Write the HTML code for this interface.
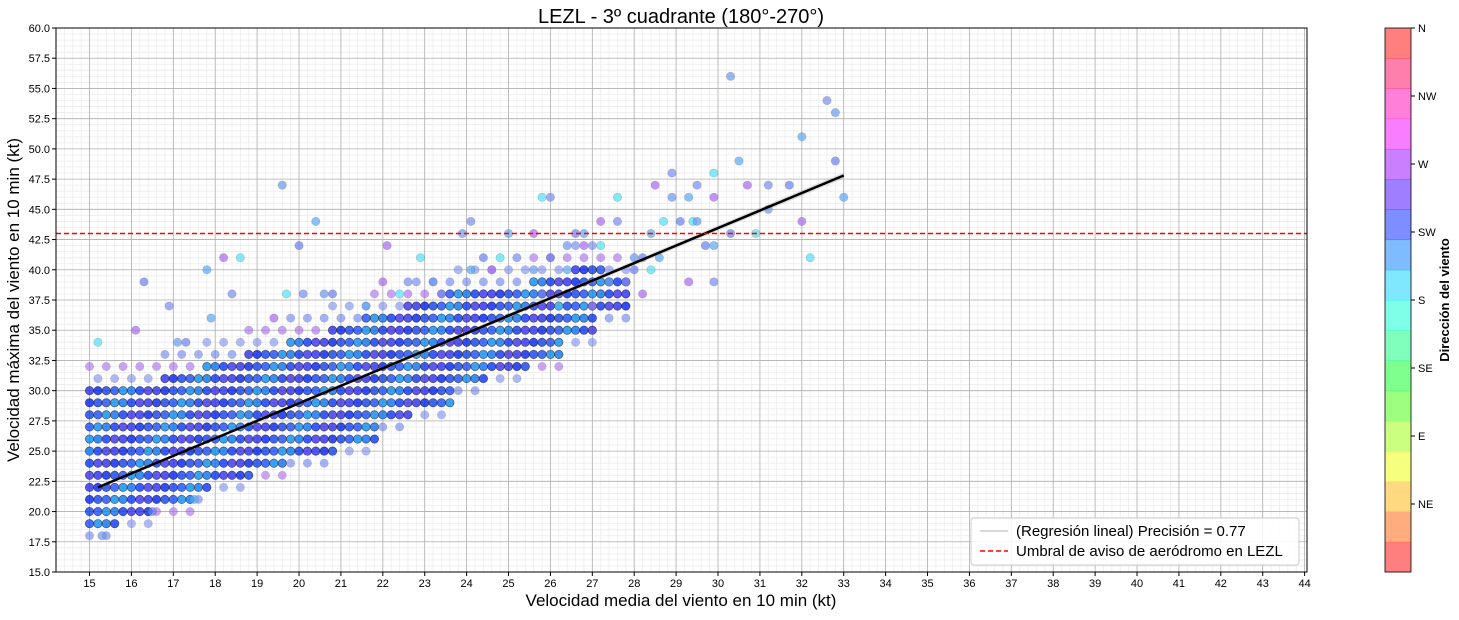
<!DOCTYPE html>
<html><head><meta charset="utf-8"><style>
body{margin:0;background:#fff;font-family:"Liberation Sans",sans-serif}
svg text{font-family:"Liberation Sans",sans-serif}
</style></head><body>
<svg id="chart" width="1459" height="615" xmlns="http://www.w3.org/2000/svg">
<g id="grid"></g>
<g id="marks"></g>
<g id="axes"></g>
<text x="681" y="23" font-size="20" text-anchor="middle">LEZL - 3º cuadrante (180°-270°)</text>
<text x="681" y="606" font-size="17" text-anchor="middle">Velocidad media del viento en 10 min (kt)</text>
<text transform="translate(19,300) rotate(-90)" font-size="17" text-anchor="middle">Velocidad máxima del viento en 10 min (kt)</text>
<g>
<rect x="971" y="518" width="328" height="47" rx="3" fill="#fff" fill-opacity="0.85" stroke="#ccc"/>
<line x1="980" y1="531" x2="1008" y2="531" stroke="#ccc" stroke-width="1.5"/>
<text x="1016" y="536" font-size="15">(Regresión lineal) Precisión = 0.77</text>
<line x1="980" y1="551" x2="1008" y2="551" stroke="red" stroke-width="1.5" stroke-dasharray="5,3"/>
<text x="1016" y="556" font-size="15">Umbral de aviso de aeródromo en LEZL</text>
</g>
<g id="cbar"></g>
<text transform="translate(1449,300) rotate(-90)" font-size="13" font-weight="bold" text-anchor="middle">Dirección del viento</text>
</svg>
<script>
const colX=[15.0,15.2,15.4,15.6,15.8,16.0,16.2,16.4,16.6,16.8,17.0,17.2,17.4,17.6,17.8,18.0,18.2,18.4,18.6,18.8,19.0,19.2,19.4,19.6,19.8,20.0,20.2,20.4,20.6,20.8,21.0,21.2,21.4,21.6,21.8,22.0,22.2,22.4,22.6,22.8,23.0,23.2,23.4,23.6,23.8,24.0,24.2,24.4,24.6,24.8,25.0,25.2,25.4,25.6,25.8,26.0,26.2,26.4,26.6,26.8,27.0,27.2,27.4,27.6,27.8];
const coreLo=[19,19,19,19,20,20,20,20,21,21,21,21,21,22,22,23,23,23,23,23,24,24,24,24,25,25,25,25,25,25,26,26,26,26,26,28,28,28,28,29,29,29,29,29,31,31,31,31,32,32,32,32,32,33,33,33,33,35,35,35,35,37,37,37,37];
const coreHi=[30,30,30,30,30,30,30,30,30,31,31,31,31,31,32,32,32,32,32,33,33,33,33,33,34,34,34,34,34,35,35,35,35,36,36,36,36,36,37,37,37,37,37,38,38,38,38,38,38,38,38,38,38,39,39,39,39,39,40,40,40,40,39,39,39];
const outX=[16.3,17.8,18.2,18.6,18.4,19.6,20.0,20.4,22.1,22.9,24.1,23.9,24.4,25.0,25.6,25.8,26.0,26.4,26.6,26.8,27.2,27.6,27.6,28.0,28.2,28.4,28.5,28.7,28.9,28.9,29.1,29.3,29.3,29.4,29.5,29.5,29.7,29.9,29.9,29.9,29.9,30.3,30.3,30.5,30.7,30.9,31.2,31.2,31.7,32.0,32.0,32.2,32.6,32.8,32.8,33.0,28.2,28.4,27.8,27.4,28.0,28.6,27.0,26.2,25.8,15.3,16.5,17.5,16.1,15.2,16.9,17.1,17.3,17.9,19.4,19.7,20.1,20.6,20.8,21.6,22.0,22.4,22.6,23.2,23.4,24.1,24.6,24.8,25.2,25.6,26.0,26.4,26.8,27.2];
const outY=[39,40,41,41,38,47,42,44,42,41,44,43,41,43,43,46,46,42,43,43,44,46,44,41,41,43,47,44,48,46,44,46,39,44,47,44,42,42,46,48,39,56,43,49,47,43,47,45,47,51,44,41,54,53,49,46,38,40,39,39,40,41,37,37,38,18,20,21,35,34,37,34,34,36,36,38,38,38,38,37,39,38,39,39,38,40,40,41,41,40,41,40,42,42];
const regX=[15.2,33.0], regY=[22.0,47.8];
const threshold=43;
const xTicks=[15,16,17,18,19,20,21,22,23,24,25,26,27,28,29,30,31,32,33,34,35,36,37,38,39,40,41,42,43,44];
const yTicks=[15,17.5,20,22.5,25,27.5,30,32.5,35,37.5,40,42.5,45,47.5,50,52.5,55,57.5,60];
const cbLabels=['N','NE','E','SE','S','SW','W','NW','N'];

const L=56,R=1307,T=28,B=572;
const xs=v=>L+(v-14.2)*41.9;
const ys=v=>B-(v-15)*(B-T)/45;
const NS='http://www.w3.org/2000/svg';
function mk(tag,attrs,parent){const e=document.createElementNS(NS,tag);for(const k in attrs)e.setAttribute(k,attrs[k]);parent.appendChild(e);return e;}
const grid=document.getElementById('grid'),marks=document.getElementById('marks'),axes=document.getElementById('axes'),cbar=document.getElementById('cbar');
for(let v=14.2;v<=44.05;v+=0.2){const l=mk('line',{x1:xs(v),x2:xs(v),y1:T,y2:B,stroke:'#ececec','stroke-width':0.8},grid);}
for(let v=15;v<=60;v+=0.5){const l=mk('line',{x1:L,x2:R,y1:ys(v),y2:ys(v),stroke:'#ececec','stroke-width':0.8},grid);}
xTicks.forEach(t=>{const l=mk('line',{x1:xs(t),x2:xs(t),y1:T,y2:B,stroke:'#b0b0b0','stroke-width':0.8},grid);
 mk('line',{x1:xs(t),x2:xs(t),y1:B,y2:B+4,stroke:'#000'},axes);
 const tx=mk('text',{x:xs(t),y:B+15,'font-size':11,'text-anchor':'middle'},axes);tx.textContent=t;});
yTicks.forEach(t=>{const l=mk('line',{x1:L,x2:R,y1:ys(t),y2:ys(t),stroke:'#b0b0b0','stroke-width':0.8},grid);
 mk('line',{x1:L-4,x2:L,y1:ys(t),y2:ys(t),stroke:'#000'},axes);
 const tx=mk('text',{x:L-6,y:ys(t)+4,'font-size':11,'text-anchor':'end'},axes);tx.textContent=t.toFixed(1);});
const light=['#6a80f0','#5aa8f5','#a868f0','#50dff5','#7a8cf2','#6a98f2'];
const dark=['#0a34ff','#1a4cff','#2a2cf5','#0a70f5','#1040f0','#3a30f0','#0a8cf5','#0020f5'];
colX.forEach((x,i)=>{
 for(let y=coreLo[i]-1;y<=coreHi[i]+2;y++){
  const fr=(y<coreLo[i]||y>coreHi[i]);
  if(fr&&((i+y)%2))continue;
  const c=mk('circle',{cx:xs(x),cy:ys(y),r:4.2,fill:fr?light[(i*3+y)%light.length]:dark[(i*5+y*3)%dark.length],'fill-opacity':fr?0.6:0.8,stroke:fr?'#555':'#111','stroke-opacity':fr?0.2:0.6,'stroke-width':0.7},marks);
  
  
 }
});
outX.forEach((x,i)=>{const c=mk('circle',{cx:xs(x),cy:ys(outY[i]),r:4.2,fill:light[i%light.length],'fill-opacity':0.7,stroke:'#555','stroke-opacity':0.25,'stroke-width':0.7},marks);
 
 });
const band=mk('polygon',{points:`${xs(regX[0])},${ys(regY[0])-1} ${xs(regX[1])},${ys(regY[1])-3} ${xs(regX[1])},${ys(regY[1])+3} ${xs(regX[0])},${ys(regY[0])+1}`,fill:'#999','fill-opacity':0.3},marks);

const rl=mk('line',{x1:xs(regX[0]),y1:ys(regY[0]),x2:xs(regX[1]),y2:ys(regY[1]),stroke:'#000','stroke-width':2.5},marks);

const th=mk('line',{x1:L,x2:R,y1:ys(threshold),y2:ys(threshold),stroke:'red','stroke-width':1.5,'stroke-dasharray':'5,3'},marks);

const fr=mk('rect',{x:L,y:T,width:R-L,height:B-T,fill:'none',stroke:'#000','stroke-width':1},axes);
const cx0=1385,cw=26,n=18,bh=(B-T)/n;
for(let i=0;i<n;i++){const hue=i/(n-1)*360;const r=mk('rect',{x:cx0,y:B-(i+1)*bh,width:cw,height:bh+0.5,fill:`hsl(${hue},100%,50%)`,'fill-opacity':0.5},cbar);}
mk('rect',{x:cx0,y:T,width:cw,height:B-T,fill:'none',stroke:'#000','stroke-width':0.8},cbar);
cbLabels.forEach((lab,i)=>{if(i===0)return;const y=B-i*68;mk('line',{x1:cx0+cw,x2:cx0+cw+4,y1:y,y2:y,stroke:'#000'},cbar);
 const t=mk('text',{x:cx0+cw+7,y:y+4,'font-size':11},cbar);t.textContent=lab;});
</script>
</body></html>
